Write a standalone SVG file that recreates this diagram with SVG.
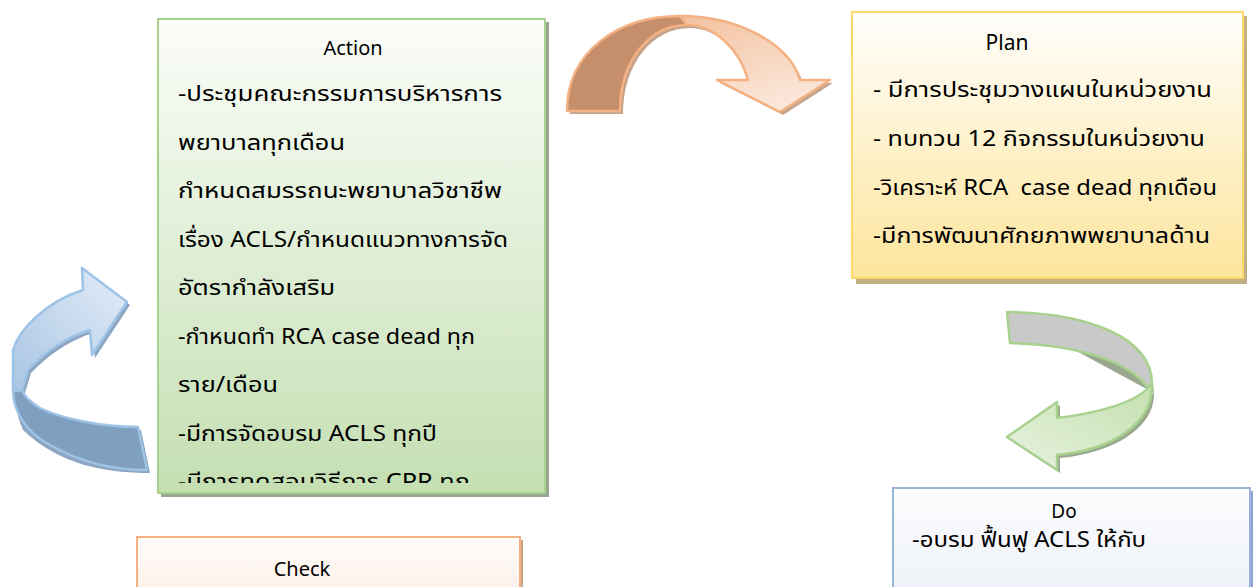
<svg xmlns="http://www.w3.org/2000/svg" width="1256" height="587" viewBox="0 0 1256 587">
<defs>
<style>
.t{font-family:"Noto Sans","Noto Sans Thai",Tahoma,"DejaVu Sans",sans-serif;fill:#000}
.h{font-size:20px}
.b{font-size:22px}
</style>
<linearGradient id="gAct" x1="0" y1="0" x2="0" y2="1"><stop offset="0" stop-color="#fbfdf9"/><stop offset="1" stop-color="#c4dfb2"/></linearGradient>
<linearGradient id="gPlan" x1="0" y1="0" x2="0" y2="1"><stop offset="0" stop-color="#fffefc"/><stop offset="1" stop-color="#fde59c"/></linearGradient>
<linearGradient id="gChk" x1="0" y1="0" x2="0" y2="1"><stop offset="0" stop-color="#fffdfb"/><stop offset="1" stop-color="#fdf0e8"/></linearGradient>
<linearGradient id="gDo" x1="0" y1="0" x2="0" y2="1"><stop offset="0" stop-color="#fdfdfe"/><stop offset="1" stop-color="#edf1f7"/></linearGradient>
<linearGradient id="gOr" x1="0" y1="0" x2="0.4" y2="1"><stop offset="0" stop-color="#f3c2a0"/><stop offset="1" stop-color="#fbe6d8"/></linearGradient>
<linearGradient id="gBl" x1="1" y1="0" x2="0" y2="1"><stop offset="0" stop-color="#e3edf8"/><stop offset="1" stop-color="#a9c5e4"/></linearGradient>
<linearGradient id="gGr" x1="1" y1="0" x2="0" y2="1"><stop offset="0" stop-color="#c4e0b0"/><stop offset="1" stop-color="#e6f2de"/></linearGradient>
<clipPath id="cAct"><rect x="157" y="18" width="388" height="465"/></clipPath>
</defs>

<g id="connectors">
  <g id="arrow-action-plan">
    <path d="M570,114 C570,53 623,19 683,19 C743,19 793,48 803,83 L833,83 L783,115 L720,83 L751,83 C743,53 718,28 690,28 C653,28 623,63 623,114 Z" fill="#c4a48c"/>
    <path d="M567,111 C567,50 620,16 680,16 L687,25 C650,25 620,60 620,111 Z" fill="#c48f6a" stroke="#f4b183" stroke-width="2.5" stroke-linejoin="round"/>
    <path d="M680,16 C740,16 790,45 800,80 L830,80 L780,112 L717,80 L748,80 C740,50 715,25 687,25 Z" fill="url(#gOr)" stroke="#f4b183" stroke-width="2.5" stroke-linejoin="round"/>
  </g>
  <g id="arrow-plan-do">
    <path d="M1010,315 C1093,316 1153,343 1154,393 C1155,428 1113,453 1060,458 L1060,473 L1010,440 L1060,405 L1060,421 C1100,415 1138,403 1154,393 Z" fill="#9aa88f"/>
    <path d="M1007,312 C1090,313 1151,338 1152,383 L1148,388 C1130,362 1080,345 1010,343 Z" fill="#c9c9c9" stroke="#a9d18e" stroke-width="2.5" stroke-linejoin="round"/>
    <path d="M1152,383 C1154,425 1110,450 1057,455 L1057,470 L1007,437 L1057,402 L1057,418 C1100,413 1135,402 1148,388 Z" fill="url(#gGr)" stroke="#a9d18e" stroke-width="2.5" stroke-linejoin="round"/>
  </g>
  <g id="arrow-check-action">
    <path d="M86,293 L85,271 L130,305 L95,358 L93,333 C70,340 48,355 31,373 L25,393 C20,405 30,418 46,413 C70,425 105,430 141,430 L150,473 C105,473 60,465 23,430 C15,412 14,395 16,380 C22,340 48,305 86,293 Z" fill="#8da6c2"/>
    <path d="M83,290 L82,268 L127,302 L92,355 L90,330 C67,337 45,352 28,370 L22,390 C17,391 14,391 13,390 L13,350 C19,330 45,302 83,290 Z" fill="url(#gBl)" stroke="#9dc3e6" stroke-width="2.5" stroke-linejoin="round"/>
    <path d="M13,390 C13,410 25,432 50,445 C80,462 115,470 147,470 L138,427 C100,427 60,418 40,408 C30,402 24,396 22,390 C18,391 15,391 13,390 Z" fill="#7f9fbe" stroke="#9dc3e6" stroke-width="2.5" stroke-linejoin="round"/>
  </g>
</g>

<g id="node-action">
  <rect x="161" y="22" width="388" height="475" fill="#9aa68f"/>
  <rect x="158" y="19" width="387" height="474" fill="url(#gAct)" stroke="#a9d18e" stroke-width="2"/>
  <text class="t h" x="353" y="55" text-anchor="middle">Action</text>
  <g clip-path="url(#cAct)" class="t b">
    <text x="178" y="101" textLength="324" lengthAdjust="spacingAndGlyphs">-ประชุมคณะกรรมการบริหารการ</text>
    <text x="178" y="149.5" textLength="167" lengthAdjust="spacingAndGlyphs">พยาบาลทุกเดือน</text>
    <text x="178" y="198" textLength="324" lengthAdjust="spacingAndGlyphs">กำหนดสมรรถนะพยาบาลวิชาชีพ</text>
    <text x="178" y="246.5" textLength="330" lengthAdjust="spacingAndGlyphs">เรื่อง ACLS/กำหนดแนวทางการจัด</text>
    <text x="178" y="295" textLength="157" lengthAdjust="spacingAndGlyphs">อัตรากำลังเสริม</text>
    <text x="178" y="343.5" textLength="297" lengthAdjust="spacingAndGlyphs">-กำหนดทำ RCA case dead ทุก</text>
    <text x="178" y="392" textLength="100" lengthAdjust="spacingAndGlyphs">ราย/เดือน</text>
    <text x="178" y="440.5" textLength="259" lengthAdjust="spacingAndGlyphs">-มีการจัดอบรม ACLS ทุกปี</text>
    <text x="178" y="489" textLength="292" lengthAdjust="spacingAndGlyphs">-มีการทดสอบวิธีการ CPR ทุก</text>
  </g>
</g>

<g id="node-plan">
  <rect x="856" y="16" width="391" height="268" fill="#c2af84"/>
  <rect x="852" y="12" width="391" height="266" fill="url(#gPlan)" stroke="#fdd86a" stroke-width="2"/>
  <text class="t" x="1007" y="50" text-anchor="middle" font-size="21">Plan</text>
  <g class="t b">
    <text x="873" y="97" textLength="339" lengthAdjust="spacingAndGlyphs">- มีการประชุมวางแผนในหน่วยงาน</text>
    <text x="873" y="146" textLength="332" lengthAdjust="spacingAndGlyphs">- ทบทวน 12 กิจกรรมในหน่วยงาน</text>
    <text x="873" y="195" textLength="344" lengthAdjust="spacingAndGlyphs" xml:space="preserve">-วิเคราะห์ RCA  case dead ทุกเดือน</text>
    <text x="873" y="243" textLength="337" lengthAdjust="spacingAndGlyphs">-มีการพัฒนาศักยภาพพยาบาลด้าน</text>
  </g>
</g>

<g id="node-do">
  <rect x="896" y="491" width="357" height="100" fill="#8fa5cf"/>
  <rect x="893" y="488" width="357" height="104" fill="url(#gDo)" stroke="#9ab3db" stroke-width="2"/>
  <text class="t" x="1064" y="518" text-anchor="middle" font-size="19">Do</text>
  <text class="t b" x="912" y="547" textLength="234" lengthAdjust="spacingAndGlyphs">-อบรม ฟื้นฟู ACLS ให้กับ</text>
</g>

<g id="node-check">
  <rect x="140" y="540" width="383" height="52" fill="#c7a387"/>
  <rect x="137" y="537" width="383" height="56" fill="url(#gChk)" stroke="#f4b183" stroke-width="2"/>
  <text class="t h" x="302" y="576" text-anchor="middle">Check</text>
</g>
</svg>
